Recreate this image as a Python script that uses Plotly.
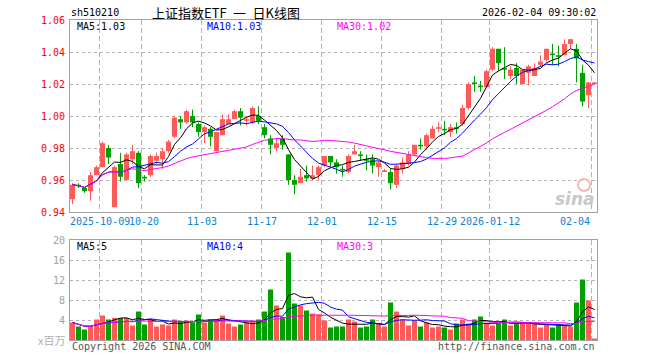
import plotly.graph_objects as go
import pandas as pd

# ---------------- data ----------------
opens = [0.948, 0.957, 0.955, 0.953, 0.963, 0.968, 0.980, 0.943, 0.970, 0.960,
         0.973, 0.977, 0.962, 0.963, 0.972, 0.973, 0.978, 0.987, 0.998, 0.996,
         1.000, 0.995, 0.990, 0.992, 0.978, 0.988, 0.995, 0.998, 1.003, 0.997,
         0.996, 1.000, 0.993, 0.986, 0.980, 0.986, 0.976, 0.960, 0.958, 0.963,
         0.961, 0.963, 0.969, 0.975, 0.971, 0.967, 0.965, 0.976, 0.976, 0.973,
         0.973, 0.968, 0.965, 0.965, 0.957, 0.967, 0.970, 0.976, 0.982, 0.981,
         0.986, 0.992, 0.992, 0.990, 0.993, 0.995, 1.005, 1.021, 1.019, 1.018,
         1.029, 1.042, 1.030, 1.025, 1.030, 1.020, 1.027, 1.025, 1.032, 1.035,
         1.039, 1.038, 1.038, 1.045, 1.042, 1.027, 1.013, 1.020]
highs = [0.958, 0.958, 0.955, 0.965, 0.969, 0.984, 0.982, 0.969, 0.977, 0.977,
         0.982, 0.978, 0.963, 0.976, 0.977, 0.980, 0.985, 1.000, 1.000, 1.004,
         1.004, 0.996, 0.994, 0.993, 0.990, 1.001, 1.001, 1.004, 1.005, 1.000,
         1.006, 1.006, 0.995, 0.988, 0.986, 0.988, 0.976, 0.963, 0.967, 0.969,
         0.969, 0.969, 0.975, 0.975, 0.973, 0.969, 0.976, 0.982, 0.978, 0.976,
         0.976, 0.972, 0.967, 0.967, 0.970, 0.974, 0.978, 0.982, 0.986, 0.989,
         0.994, 0.996, 0.997, 0.995, 0.996, 1.007, 1.021, 1.025, 1.022, 1.029,
         1.043, 1.042, 1.043, 1.031, 1.033, 1.029, 1.032, 1.033, 1.038, 1.042,
         1.045, 1.044, 1.048, 1.048, 1.045, 1.032, 1.021, 1.021]
lows = [0.945, 0.955, 0.952, 0.947, 0.963, 0.968, 0.970, 0.943, 0.959, 0.960,
        0.970, 0.955, 0.959, 0.962, 0.970, 0.967, 0.977, 0.986, 0.992, 0.995,
        0.993, 0.987, 0.983, 0.981, 0.978, 0.988, 0.995, 0.998, 0.994, 0.994,
        0.995, 0.995, 0.986, 0.976, 0.978, 0.979, 0.957, 0.951, 0.958, 0.959,
        0.960, 0.960, 0.968, 0.968, 0.964, 0.962, 0.964, 0.976, 0.972, 0.966,
        0.964, 0.962, 0.965, 0.954, 0.955, 0.964, 0.969, 0.975, 0.979, 0.979,
        0.986, 0.990, 0.988, 0.987, 0.989, 0.994, 1.004, 1.015, 1.015, 1.018,
        1.028, 1.028, 1.023, 1.023, 1.020, 1.020, 1.019, 1.025, 1.031, 1.034,
        1.032, 1.031, 1.038, 1.042, 1.021, 1.006, 1.005, 1.020]
closes = [0.957, 0.956, 0.953, 0.963, 0.968, 0.983, 0.974, 0.968, 0.962, 0.976,
          0.978, 0.958, 0.961, 0.975, 0.975, 0.978, 0.984, 0.999, 0.996, 1.003,
          0.996, 0.990, 0.993, 0.987, 0.990, 0.998, 0.998, 1.003, 0.999, 0.998,
          1.005, 0.997, 0.988, 0.982, 0.983, 0.982, 0.960, 0.957, 0.962, 0.961,
          0.963, 0.968, 0.975, 0.971, 0.968, 0.966, 0.975, 0.978, 0.975, 0.972,
          0.969, 0.971, 0.966, 0.958, 0.969, 0.971, 0.976, 0.982, 0.981, 0.988,
          0.992, 0.993, 0.991, 0.993, 0.992, 1.005, 1.020, 1.020, 1.018, 1.028,
          1.042, 1.033, 1.029, 1.029, 1.025, 1.029, 1.031, 1.030, 1.034, 1.042,
          1.038, 1.037, 1.045, 1.048, 1.036, 1.009, 1.021, 1.021]
volumes = [3.5, 2.7, 2.1, 2.7, 4.1, 4.9, 4.1, 4.4, 4.4, 4.4,
           2.9, 5.7, 3.1, 4.2, 2.7, 3.1, 2.9, 4.1, 3.7, 3.9,
           3.5, 5.1, 3.5, 4.1, 4.1, 4.9, 3.3, 2.7, 3.1, 3.5,
           3.7, 4.1, 5.7, 10.1, 6.9, 4.6, 17.5, 7.3, 6.9, 5.9,
           5.3, 5.1, 3.9, 2.5, 2.7, 2.7, 4.1, 3.7, 2.5, 2.7,
           4.1, 3.4, 2.7, 7.5, 5.7, 4.1, 2.9, 3.9, 2.7, 3.5,
           2.5, 2.7, 2.5, 2.1, 3.3, 4.1, 3.3, 4.1, 4.7, 3.3,
           2.9, 3.3, 4.1, 2.9, 3.3, 3.3, 3.3, 3.3, 2.5, 3.1,
           2.5, 2.9, 2.9, 2.7, 7.5, 12.1, 7.9, 0.3]

date_tick_index = [5, 12, 22, 32, 42, 52, 62, 70, 87]
date_tick_labels = ["2025-10-09", "10-20", "11-03", "11-17", "12-01",
                    "12-15", "12-29", "2026-01-12", "02-04"]
price_ticks = [1.06, 1.04, 1.02, 1.00, 0.98, 0.96, 0.94]
price_tick_labels = ["1.06", "1.04", "1.02", "1.00", "0.98", "0.96", "0.94"]
vol_ticks = [20, 16, 12, 8, 4]
vol_tick_labels = ["20", "16", "12", "8", "4"]

code = "sh510210"
title_text = "上证指数ETF\u2002一\u2002日K线图"
stamp = "2026-02-04 09:30:02"
price_legend = ["MA5:1.03", "MA10:1.03", "MA30:1.02"]
vol_legend = ["MA5:5", "MA10:4", "MA30:3"]
unit_text = "x百万"
copyright_text = "Copyright 2026 SINA.COM"
url_text = "http://finance.sina.com.cn"

# ---------------- styling ----------------
RED = "#ff5a5a"
GREEN = "#00a000"
MA_COLORS = ["#000000", "#0000ff", "#ff00ff"]
MONO = "DejaVu Sans Mono"
W, H = 660, 360
ML, MR, MT, MB = 70, 63, 20, 20
PW = W - ML - MR
PH = H - MT - MB

n = len(closes)
idx = list(range(n))
up = [c >= o for o, c in zip(opens, closes)]
colors = [RED if u else GREEN for u in up]

df = pd.DataFrame({"c": closes, "v": volumes})
ma_price = [df["c"].rolling(w, min_periods=1).mean() for w in (5, 10, 30)]
ma_vol = [df["v"].rolling(w, min_periods=1).mean() for w in (5, 10, 30)]

fig = go.Figure()

# wicks
for col, flag in ((RED, True), (GREEN, False)):
    xs, ys = [], []
    for i in idx:
        if up[i] == flag:
            xs += [i, i, None]
            ys += [lows[i], highs[i], None]
    fig.add_trace(go.Scatter(x=xs, y=ys, mode="lines", line=dict(color=col, width=1),
                             hoverinfo="skip", showlegend=False, xaxis="x", yaxis="y"))

# bodies
body_base = [min(o, c) for o, c in zip(opens, closes)]
body_h = [max(abs(c - o), 0.0007) for o, c in zip(opens, closes)]
fig.add_trace(go.Bar(x=idx, y=body_h, base=body_base, width=0.83,
                     marker=dict(color=colors, line=dict(width=0)),
                     showlegend=False, xaxis="x", yaxis="y"))

# price MAs
for s, col in zip(ma_price, MA_COLORS):
    fig.add_trace(go.Scatter(x=idx, y=s, mode="lines", line=dict(color=col, width=1),
                             showlegend=False, xaxis="x", yaxis="y"))

# volume
fig.add_trace(go.Bar(x=idx, y=volumes, width=0.83,
                     marker=dict(color=colors, line=dict(width=0)),
                     showlegend=False, xaxis="x2", yaxis="y2"))
for s, col in zip(ma_vol, MA_COLORS):
    fig.add_trace(go.Scatter(x=idx, y=s, mode="lines", line=dict(color=col, width=1),
                             showlegend=False, xaxis="x2", yaxis="y2"))

xr = [-2.5 / 6, -2.5 / 6 + PW / 6]
grid_x = [i - 0.42 for i in date_tick_index]
xcommon = dict(range=xr, tickvals=grid_x, showticklabels=False, ticks="",
               showgrid=True, gridcolor="#b4b4b4", griddash="5px,3px", gridwidth=1,
               showline=True, mirror=True, linecolor="#a0a0a0", linewidth=1,
               zeroline=False, fixedrange=True)
ycommon = dict(showticklabels=False, ticks="", showgrid=True, gridcolor="#b4b4b4",
               griddash="dot", gridwidth=1, showline=True, mirror=True,
               linecolor="#a0a0a0", linewidth=1, zeroline=False, fixedrange=True)

main_bottom = (H - MB - 212) / PH
vol_top = (H - MB - 240) / PH

fig.update_layout(
    width=W, height=H, margin=dict(l=ML, r=MR, t=MT, b=MB),
    paper_bgcolor="white", plot_bgcolor="white", barmode="overlay",
    showlegend=False, hovermode=False,
    xaxis=dict(domain=[0, 1], anchor="y", **xcommon),
    xaxis2=dict(domain=[0, 1], anchor="y2", matches="x", **xcommon),
    yaxis=dict(domain=[main_bottom, 1], range=[0.94, 1.06], tickvals=price_ticks, **ycommon),
    yaxis2=dict(domain=[0, vol_top], range=[0, 20], tickvals=vol_ticks, **ycommon),
)


def px_x(p):
    return (p - ML) / PW


def px_y(p):
    return (H - MB - p) / PH


def txt(text, x, y, color, size=10, family=MONO, xanchor="left", xref="paper", yref="paper", **kw):
    fig.add_annotation(text=text, x=x, y=y, xref=xref, yref=yref, showarrow=False,
                       xanchor=xanchor, yanchor="middle",
                       font=dict(family=family, size=size, color=color), **kw)


# header
txt(code, px_x(69), px_y(13), "#000000", size=10)
txt(title_text, px_x(150), px_y(12), "#000000", size=13, family="Noto Sans CJK SC")
txt(stamp, px_x(598), px_y(13), "#000000", size=10, xanchor="right")

# price axis labels
for v, lab in zip(price_ticks, price_tick_labels):
    txt(lab, px_x(67), v, "#ff0000", xanchor="right", yref="y")
# volume axis labels
for v, lab in zip(vol_ticks, vol_tick_labels):
    txt(lab, px_x(67), v, "#a0a0a0", xanchor="right", yref="y2")
txt(unit_text, px_x(67), px_y(340), "#b0b0b0", size=11, family="Noto Sans CJK SC", xanchor="right")

# date labels
label_shift = [0, 0.33, 0, 0, 0, 0, 0, 0, 0]
for k, (i, lab) in enumerate(zip(grid_x, date_tick_labels)):
    last = k == len(grid_x) - 1
    txt(lab, i + label_shift[k], px_y(221), "#0a84d0",
        xanchor="right" if last else "center", xref="x")

# legends
for lab, col, x0 in zip(price_legend, MA_COLORS, (75, 205, 335)):
    txt(lab, px_x(x0), px_y(26), col)
for lab, col, x0 in zip(vol_legend, MA_COLORS, (75, 205, 335)):
    txt(lab, px_x(x0), px_y(246), col)

# footer
txt(copyright_text, px_x(70), px_y(346), "#555555")
txt(url_text, px_x(597), px_y(346), "#555555", xanchor="right")

# watermark
txt("<b><i>sina</i></b>", px_x(597), px_y(199), "#c8c8c8", size=17, family="DejaVu Sans", xanchor="right")
fig.add_shape(type="circle", xref="paper", yref="paper",
              x0=px_x(578), x1=px_x(590), y0=px_y(191), y1=px_y(179),
              line=dict(color="#f4b8b8", width=2))

fig.write_html("out.html", config={"displayModeBar": False, "staticPlot": True},
               post_script="document.body.style.margin='0px';")
